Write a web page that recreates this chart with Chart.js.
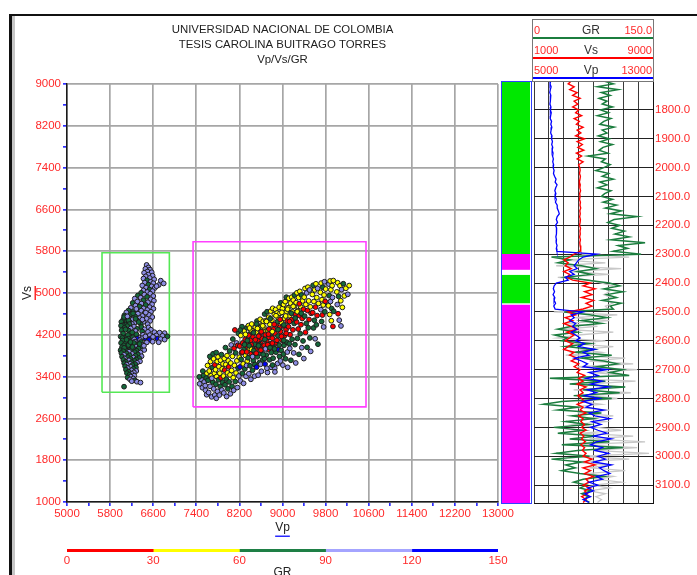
<!DOCTYPE html>
<html lang="es">
<head>
<meta charset="utf-8">
<title>Vp/Vs/GR</title>
<script src="https://cdn.jsdelivr.net/npm/chart.js@4.4.1/dist/chart.umd.min.js"></script>
<style>
  html, body { margin:0; padding:0; background:#fff; }
  #page { position:relative; width:697px; height:575px; overflow:hidden; background:#fff;
          font-family:"Liberation Sans", Arial, Helvetica, sans-serif; }
  #page canvas { position:absolute; left:0; top:0; }
  #frameOuter { position:absolute; left:9px; top:14px; width:700px; height:600px;
                border-left:3px solid #111; border-top:2px solid #111; }
  #frameInner { position:absolute; left:12px; top:16px; width:3px; height:600px; background:#c6c6c6; }
  #stripBorder { position:absolute; left:501px; top:81px; width:29px; height:421px; border:1px solid #3040ff; }
  #logHeader { position:absolute; left:532px; top:19px; width:120px; height:61px; border:1px solid #777; }
  .hd { position:absolute; font-size:11px; line-height:14px; white-space:nowrap; }
</style>
</head>
<body>
<div id="page">
  <div id="frameOuter"></div>
  <div id="frameInner"></div>
  <canvas id="crossplot" width="697" height="575"></canvas>
  <canvas id="zoneStrip" width="697" height="575"></canvas>
  <div id="stripBorder"></div>
  <canvas id="wellLog" width="697" height="575"></canvas>
  <div id="logHeader"></div>
  <canvas id="grScale" width="697" height="575"></canvas>
</div>
<script>
const FONT = '"Liberation Sans", Arial, Helvetica, sans-serif';
Chart.defaults.font.family = FONT;

// ---------- crossplot text ----------
const titleLines = ['UNIVERSIDAD NACIONAL DE COLOMBIA', 'TESIS CAROLINA BUITRAGO TORRES', 'Vp/Vs/GR'];
const xTitle = 'Vp';
const yTitle = 'Vs';
const legendTitle = 'GR';

// ---------- crossplot axes ----------
const vpAxis = [5000, 13000];
const vsAxis = [1000, 9000];
const vpTickLabels = [5000, 5800, 6600, 7400, 8200, 9000, 9800, 10600, 11400, 12200, 13000];
const vsTickLabels = [1000, 1800, 2600, 3400, 4200, 5000, 5800, 6600, 7400, 8200, 9000];

// ---------- GR colour classes ----------
const grBreaks = [0, 30, 60, 90, 120, 150];
const grColors = ['#ff0000', '#ffff00', '#15693a', '#8c8ce4', '#0000ff'];

// ---------- zone selection boxes (Vp range, Vs range) ----------
const upperZoneBox = { vp: [5650, 6900], vs: [3100, 5770] };
const lowerZoneBox = { vp: [7340, 10550], vs: [2820, 5980] };

// ---------- samples: [Vp, Vs, GR] ----------
const upperZonePts = [
[6478,5537,106],[6512,5489,101],[6455,5462,109],[6541,5448,97],[6493,5411,104],[6431,5386,112],[6572,5397,103],[6508,5352,99],[6462,5318,107],[6589,5331,95],
[6536,5287,102],[6420,5276,105],[6618,5262,98],[6487,5244,81],[6553,5213,108],[6444,5198,103],[6602,5187,100],[6512,5161,76],[6397,5143,106],[6571,5128,102],
[6468,5102,97],[6628,5094,104],[6531,5067,72],[6419,5049,108],[6588,5036,99],[6490,5018,105],[6376,5004,84],[6740,5236,103],[6795,5183,106],[6702,5152,101],
[6662,5131,107],
[6545,4988,101],[6436,4969,104],[6315,4952,78],[6602,4941,107],[6487,4926,69],[6368,4910,103],[6258,4893,105],[6553,4879,99],[6419,4862,74],[6613,4851,110],
[6305,4836,106],[6502,4822,102],[6219,4809,71],[6383,4797,104],[6579,4783,97],[6461,4771,79],[6271,4758,103],[6347,4741,67],[6535,4729,105],[6184,4716,108],
[6423,4707,101],[6604,4698,104],[6296,4689,81],[6490,4676,106],[6142,4665,73],
[6378,4662,103],[6232,4649,70],[6558,4641,106],[6101,4628,104],[6445,4617,77],[6316,4604,108],[6187,4592,66],[6520,4584,102],[6064,4571,79],[6402,4562,105],
[6265,4549,74],[6583,4539,103],[6139,4528,82],[6351,4519,100],[6479,4508,107],[6046,4496,71],[6213,4488,104],[6302,4475,69],[6544,4466,101],[6113,4457,77],
[6421,4448,106],[6171,4437,72],[6256,4428,103],[6029,4419,85],[6368,4410,75],[6497,4402,108],[6083,4395,68],[6206,4408,104],[6330,4444,79],[6141,4480,73],
[6060,4540,67],[6226,4610,76],[6121,4553,102],[6273,4506,71],[6009,4447,79],[6400,4491,104],[6462,4625,99],[6287,4695,106],[6159,4405,70],[6038,4382,74],
[6003,4374,78],[6117,4366,71],[6244,4358,104],[6379,4349,74],[6512,4341,102],[6068,4333,69],[6182,4322,103],[6301,4314,77],[6441,4306,107],[6557,4297,100],
[6014,4289,81],[6146,4280,68],[6273,4272,105],[6395,4264,72],[6502,4256,104],[6623,4249,106],[6719,4241,103],[6811,4232,109],[6042,4225,73],[6167,4217,79],
[6288,4209,70],[6411,4201,104],[6538,4194,101],[6658,4188,105],[6772,4180,107],[6864,4171,80],[5996,4166,76],[6097,4159,72],[6223,4152,74],[6343,4146,103],
[6301,4126,129],[6397,4134,104],[6462,4129,137],[6548,4122,127],[6621,4136,101],[6684,4124,131],[6739,4119,104],[6812,4108,106],[6596,4160,110],[6357,4099,108],
[6523,4101,141],[6455,4169,103],[6085,4304,73],[6211,4246,68],[6129,4195,77],
[6027,4138,74],[6139,4126,67],[6249,4113,103],[6031,4091,79],[6151,4079,72],[6262,4070,106],[6372,4062,74],[6481,4055,102],[6590,4068,105],[6702,4057,103],
[6004,4044,82],[6089,4034,70],[6194,4025,108],[6296,4016,79],[6405,4007,100],[6054,3998,74],[6166,3989,71],[6271,3980,104],[6366,3971,69],[6021,3962,78],
[6118,3953,73],[6228,3944,105],[6327,3936,77],[6082,3927,69],[6187,3918,82],[6434,3910,103],[5995,3905,76],[6140,4005,68],[6241,4045,73],[6106,4104,71],
[6347,4025,72],[6215,3966,70],[6061,3950,66],[6178,4060,74],[6428,3990,107],
[6292,3894,76],[6043,3885,72],[6152,3876,103],[6258,3867,71],[6364,3859,105],[6009,3851,79],[6107,3842,70],[6211,3833,106],[6316,3825,74],[6059,3816,104],
[6162,3807,78],[6269,3798,73],[6384,3790,107],[6022,3781,75],[6128,3772,71],[6233,3763,105],[6338,3755,80],[6073,3746,103],[6181,3737,69],[6284,3728,74],
[6047,3719,77],[6149,3710,106],[6254,3701,72],[6355,3692,104],[6093,3683,70],[6198,3674,79],[6299,3665,103],[6062,3656,73],[6171,3647,108],[6266,3638,71],
[6108,3629,104],[6213,3619,74],[6079,3598,77],[6184,3586,106],[6280,3574,72],[6129,3561,103],[6232,3549,79],[6094,3533,70],[6199,3520,104],[6286,3508,108],
[6145,3494,73],[6241,3481,105],[6113,3466,81],[6205,3451,102],[6158,3433,76],[6249,3418,107],[6183,3399,104],[6126,3381,72],[6231,3364,108],[6171,3346,102],
[6262,3329,79],[6202,3312,105],[6298,3302,104],[6364,3286,110],[6059,3207,74]
];

const lowerZonePts = [
[7462,3262,104],[7488,3351,97],[7513,3188,109],[7531,3420,76],[7547,3297,101],[7570,3140,112],[7584,3373,71],[7596,3466,44],[7521,3505,83],[7566,3228,95],
[7455,3395,79],[7592,3053,103],
[7608,3612,48],[7617,3328,72],[7629,3096,106],[7641,3507,41],[7655,3214,99],[7663,3688,52],[7676,3419,37],[7684,3012,108],[7697,3574,66],[7705,3297,85],
[7718,3741,45],[7724,3165,101],[7736,3462,53],[7742,3048,94],[7651,3786,74],[7711,3836,70],[7688,3368,117],[7745,3624,29],
[7756,3532,47],[7763,3254,78],[7771,2985,103],[7779,3401,39],[7788,3689,56],[7794,3117,98],[7803,3778,42],[7812,3339,68],[7820,3590,35],[7828,3046,110],
[7836,3465,51],[7843,3212,87],[7851,3712,46],[7859,3376,22],[7866,3821,73],[7874,3143,96],[7881,3548,43],[7889,3290,70],[7896,3643,38],[7770,3860,81],
[7904,3411,54],[7911,3087,104],[7919,3746,40],[7926,3523,18],[7934,3244,76],[7941,3955,72],[7948,3632,49],[7956,3352,63],[7963,3019,99],[7971,3802,44],
[7979,3471,37],[7986,3166,83],[7994,3702,57],[8002,3587,25],[8010,3298,71],[8018,3890,78],[8026,3433,45],[8033,3071,102],[8041,3659,39],[8048,4006,106],
[8056,3517,42],[8063,3214,74],[8071,3788,33],[8078,4118,68],[8086,3379,52],[8093,3138,97],[8101,3941,15],[8108,3614,46],[8116,4292,21],[8123,3305,78],
[8131,3853,71],[8138,3469,36],[8146,4044,108],[8153,3702,40],[8161,3191,92],[8168,3996,24],[8176,3562,65],[8183,4227,79],[8190,3411,103],[8198,3770,48],
[8205,3984,19],[8211,3584,131],[8218,3317,96],[8226,4187,45],[8233,3731,72],[8241,3856,12],[8248,4356,67],[8256,3462,81],[8263,4045,27],[8271,3644,38],
[8278,3271,104],[8286,3925,74],[8293,4271,41],[8301,3546,69],[8308,4112,16],[8316,3803,53],[8323,3404,107],[8331,3989,22],[8338,4334,76],[8346,3697,44],
[8215,4290,70],[8333,3613,99],
[8353,4048,14],[8361,3761,79],[8368,4376,48],[8376,3455,102],[8383,3918,31],[8391,4213,73],[8398,3607,67],[8406,4091,26],[8413,3348,110],[8421,3839,18],
[8428,4406,43],[8436,3966,74],[8443,3521,88],[8451,4162,11],[8458,3704,71],[8466,4287,39],[8473,3880,23],[8481,3408,105],[8488,4018,65],[8496,4344,52],
[8372,4190,21],[8445,3782,96],[8487,3631,73],[8409,4297,56],
[8503,3916,17],[8511,4242,47],[8518,3581,134],[8526,4463,71],[8533,3779,82],[8541,4086,20],[8548,3428,99],[8556,4344,36],[8563,3962,25],[8571,3667,68],
[8578,4195,13],[8586,4497,44],[8593,3847,78],[8601,4031,29],[8608,3502,103],[8616,4389,55],[8623,4130,19],[8631,3720,74],[8638,4270,41],[8646,3928,22],
[8520,4406,79],[8594,3636,107],[8642,4459,50],[8557,4173,27],
[8653,4351,37],[8661,3998,14],[8668,4597,72],[8676,3640,132],[8683,4196,24],[8691,4469,46],[8698,3811,76],[8706,4081,18],[8713,4642,68],[8721,3479,101],
[8728,4284,33],[8736,3918,27],[8743,4536,42],[8751,4151,12],[8758,3721,70],[8766,4398,53],[8773,4027,21],[8781,4653,39],[8788,3578,93],[8796,4228,75],
[8664,3745,66],[8710,3560,115],[8747,4310,16],[8792,3860,84],
[8803,4480,45],[8811,4134,17],[8818,4707,35],[8826,3752,78],[8833,4309,23],[8841,3955,71],[8848,4588,49],[8856,3560,106],[8863,4221,15],[8871,4682,58],
[8878,3868,72],[8886,4395,29],[8893,4042,19],[8901,4619,41],[8908,3650,98],[8916,4176,74],[8923,4521,37],[8931,3917,131],[8938,4728,43],[8946,4339,26],
[8815,3620,70],[8859,3490,102],[8905,4450,68],[8944,3786,79],
[8953,4611,47],[8961,4262,18],[8968,4812,71],[8976,3901,69],[8983,4433,32],[8991,4098,21],[8998,4703,44],[9006,3620,104],[9013,4371,13],[9021,4779,53],
[9028,3998,74],[9036,4516,40],[9043,4187,25],[9051,4835,38],[9058,3741,77],[9066,4299,16],[9073,4652,49],[9081,4058,72],[9088,4462,22],[9096,3577,97],
[8962,3700,109],[9017,3830,66],[9071,4920,73],[9090,3870,101],
[9103,4718,42],[9111,4354,19],[9118,4899,51],[9126,4028,73],[9133,4563,35],[9141,4201,14],[9148,4806,46],[9156,3712,78],[9163,4489,24],[9171,4920,39],
[9178,4114,70],[9186,4640,45],[9193,4295,28],[9201,4863,53],[9208,3853,103],[9216,4417,71],[9223,4750,37],[9231,4012,76],[9238,4588,17],[9246,3661,99],
[9135,3940,107],[9222,4960,70],
[9253,4815,47],[9261,4446,20],[9268,5004,44],[9276,4130,75],[9283,4661,32],[9291,4311,18],[9298,4914,53],[9306,3826,72],[9313,4569,26],[9321,5031,41],
[9328,4222,68],[9336,4741,49],[9343,4393,15],[9351,4962,74],[9358,3953,106],[9366,4512,21],[9373,4848,38],[9381,4082,79],[9388,4688,24],[9396,3745,101],
[9403,4920,43],[9411,4558,71],[9418,5086,48],[9426,4247,19],[9433,4781,36],[9441,4418,73],[9448,5001,104],[9456,3960,77],[9463,4664,22],[9471,5112,45],
[9478,4335,68],[9486,4849,31],[9493,4492,14],[9501,5058,106],[9508,4140,74],[9516,4735,44],[9523,3883,99],[9531,4611,25],
[9553,4972,46],[9561,4624,20],[9568,5147,74],[9576,4331,72],[9583,4837,38],[9591,4478,75],[9598,5060,42],[9606,4124,103],[9613,4730,17],[9621,5176,49],
[9628,4390,70],[9636,4912,36],[9643,4568,23],[9651,5088,105],[9658,4020,76],[9666,4800,45],
[9703,5012,40],[9711,4681,104],[9718,5189,47],[9726,4455,72],[9733,4873,44],[9741,4578,19],[9748,5110,73],[9756,4770,37],[9763,4350,102],[9771,4962,49],
[9778,5215,104],[9786,4640,71],[9793,4840,16],[9801,5075,42],
[9853,4755,45],[9861,5170,106],[9868,4948,73],[9876,4588,40],[9883,5230,44],[9891,4838,105],[9898,5062,47],[9906,4470,46],[9913,4702,71],[9921,5141,39],
[9928,4914,103],[9936,4360,15],[9943,5238,42],[9951,4650,74],
[10008,5021,44],[10016,4779,106],[10024,5196,49],[10032,4603,22],[10041,4935,72],[10053,4480,104],[10067,5138,38],[10082,4852,43],[10096,5064,105],[10111,4725,46],
[10129,5177,73],[10148,4944,41],[10176,5090,47],[10212,4975,104],[10238,5142,36],[10085,4370,108],
[8312,4208,44],[8347,4090,71],[8388,4330,36],[8419,4012,20],[8462,4240,75],[8497,4105,28],[8534,4320,41],[8566,4015,74],[8607,4258,16],[8633,4372,52],
[8672,4110,69],[8702,4455,38],[8739,4212,23],[8772,4508,73],[8811,4260,47],[8846,4398,18],[8879,4565,44],[8917,4300,72],[8956,4493,26],[8988,4630,55],
[9026,4388,70],[9059,4560,33],[9094,4690,45],[9129,4455,20],[9164,4612,74],[9199,4744,39],[9236,4520,72],[9274,4642,43],[9312,4793,28],[9347,4612,70],
[8254,3870,23],[8296,4010,68],[8337,3872,17],[8381,3990,73],[8425,3921,30],[8468,3898,74],[8512,3846,20],[8555,3990,66],[8599,3905,15],[8641,3822,73],
[8683,3930,107],[8727,4012,27],[8769,3954,74],[8812,4040,18],[8853,3930,71],[8897,4095,24],[8939,4003,75],[8981,4170,19],[9024,4093,73],[9068,4228,26]
];

// ---------- well log ----------
const logCurveNames = ['GR', 'Vs', 'Vp'];
const grRange = [0, 150];
const vsRange = [1000, 9000];
const vpRange = [5000, 13000];
const logRangeLabels = [['0', '150.0'], ['1000', '9000'], ['5000', '13000']];
const logColors = { GR: '#1b7d3e', Vs: '#ff0000', Vp: '#0000ff', alt: '#c8c8c8' };
const depthRange = [1700, 3162];

const depthFt = [
1700,1710,1720,1730,1740,1750,1760,1770,1780,1790,
1800,1810,1820,1830,1840,1850,1860,1870,1880,1890,
1900,1910,1920,1930,1940,1950,1960,1970,1980,1990,
2000,2010,2020,2030,2040,2050,2060,2070,2080,2090,
2100,2110,2120,2130,2140,2150,2160,2170,2180,2190,
2200,2210,2220,2230,2240,2250,2260,2270,2280,2290,
2300,2310,2320,2330,2340,2350,2360,2370,2380,2390,
2400,2410,2420,2430,2440,2450,2460,2470,2480,2490,
2500,2510,2520,2530,2540,2550,2560,2570,2580,2590,
2600,2610,2620,2630,2640,2650,2660,2670,2680,2690,
2700,2710,2720,2730,2740,2750,2760,2770,2780,2790,
2800,2810,2820,2830,2840,2850,2860,2870,2880,2890,
2900,2910,2920,2930,2940,2950,2960,2970,2980,2990,
3000,3010,3020,3030,3040,3050,3060,3070,3080,3090,
3100,3110,3120,3130,3140,3150,3160];

const vpLog = [
6120,6080,6150,6100,6060,6130,6090,6110,6070,6140,
6100,6160,6120,6090,6180,6130,6200,6150,6120,6210,
6180,6240,6190,6260,6220,6280,6250,6300,6260,6320,
6290,6350,6310,6380,6480,6420,6550,6460,6400,6470,
6420,6500,6440,6560,6560,6640,6700,6560,6500,6580,
6450,6520,6480,6540,6470,6510,6490,6550,6500,6540,
9200,8300,8000,7850,7700,7900,7400,7700,7100,7300,
6500,6350,6300,6380,6280,6400,6350,6450,6330,6420,
8300,7500,7700,7400,7800,7600,7900,7500,7800,8100,
7800,8400,8000,9100,8300,8700,7700,8200,8600,8300,
9900,8700,9300,8500,9600,8800,10000,8600,9200,8400,
9400,8300,8900,8500,9700,8700,9100,10100,8900,9500,
8800,9300,9900,9000,10200,9200,8800,9600,9100,10000,
9300,9800,9000,10200,9400,9700,10100,9200,9600,8700,
9300,8600,9000,8400,8800,8300,8700];

const vsLog = [
3500,3300,3700,3400,3900,3600,4100,3700,3950,3600,
4000,3800,4200,3700,4050,3850,4300,3900,4150,3800,
4400,3900,4250,3950,4350,3850,4200,3900,4300,4000,
4080,4100,4060,4120,4090,4050,4110,4080,4130,4070,
4100,4060,4120,4090,4140,4080,4110,4070,4120,4100,
4060,4130,4090,4110,4070,4120,4080,4100,4140,4090,
3700,3400,3000,3300,3100,3500,3000,3400,3200,3600,
4800,4300,5100,4400,4900,4200,5000,4500,4900,4300,
3300,3800,3100,3600,3000,3500,3900,3200,3700,3400,
3100,3600,3300,3000,3700,3400,3900,3500,4000,3700,
4100,3900,4400,4000,4300,3900,4500,4100,4300,3950,
4200,4400,3900,4300,4100,4500,4000,4300,4150,4400,
4200,4500,4100,4350,4200,4450,4150,4400,4250,4500,
4300,4900,4400,5100,4300,4800,4400,5000,4500,4700,
4300,4800,4400,4600,4200,4500,4300];

const grLog = [
88,100,80,106,85,96,82,92,86,99,
84,94,80,97,88,83,101,86,92,81,
95,84,99,87,82,93,68,90,85,96,
88,78,94,86,100,83,92,80,97,89,
85,99,87,104,90,110,96,130,101,93,
108,98,114,102,120,97,140,106,118,100,
135,22,45,30,60,78,55,72,40,68,
95,108,88,112,92,104,86,110,96,100,
38,70,92,60,85,48,30,55,26,42,
35,70,40,75,52,98,60,88,105,80,
112,96,120,20,90,45,115,62,108,50,
98,35,12,55,30,85,48,75,40,68,
25,62,30,80,45,95,35,112,55,28,
70,22,60,40,52,35,58,88,62,50,
66,58,72,60,68,63,70];

const grAltLog = [
null,null,null,null,null,null,null,null,null,null,
null,null,null,null,null,null,null,null,null,null,
null,null,null,null,null,null,null,null,null,null,
null,null,null,null,null,null,null,null,null,null,
null,null,null,null,null,null,null,null,null,null,
null,null,null,null,null,null,null,null,null,null,
60,120,35,90,28,110,45,95,30,70,
85,100,90,95,88,97,92,99,90,94,
25,105,50,95,40,80,35,100,55,30,
90,45,100,60,85,40,115,70,125,55,
130,75,118,40,128,65,110,50,122,70,
105,60,85,45,95,55,100,65,90,50,
80,110,60,125,70,140,55,130,75,145,
60,120,50,95,70,115,65,100,80,110,
75,95,70,90,78,85,80];

// ---------- zone strip (depth intervals) ----------
const zoneTopFt  = [1700, 2298, 2373, 2476];
const zoneBaseFt = [2298, 2353, 2469, 3162];
const zoneKind   = ['upper', 'lower', 'upper', 'lower'];
const zoneColors = { upper: '#00e800', lower: '#ff00ff' };
const zoneBoxColors = { upper: '#55e855', lower: '#ff40ff' };

// ================= helpers =================
const grColor = g => {
  for (let k = 0; k < grColors.length; k++) if (g < grBreaks[k + 1]) return grColors[k];
  return grColors[grColors.length - 1];
};
const toPts = arr => arr.map(([x, y, gr]) => ({ x, y, gr }));
const boxPath = b => [
  { x: b.vp[0], y: b.vs[0] }, { x: b.vp[1], y: b.vs[0] }, { x: b.vp[1], y: b.vs[1] },
  { x: b.vp[0], y: b.vs[1] }, { x: b.vp[0], y: b.vs[0] }
];
const RED_TXT = '#ff2a2a';

// ================= crossplot =================
const crossplotText = {
  id: 'crossplotText',
  afterDraw(chart) {
    const c = chart.ctx, a = chart.chartArea, cx = (a.left + a.right) / 2;
    c.save();
    c.textAlign = 'center';
    c.textBaseline = 'middle';
    c.fillStyle = '#222';
    c.font = '11.4px ' + FONT;
    titleLines.forEach((t, i) => c.fillText(t, cx, 30 + i * 15));
    c.font = '12px ' + FONT;
    c.fillText(xTitle, cx, 528);
    const wx = c.measureText(xTitle).width;
    c.fillStyle = '#2a2aff';
    c.fillRect(cx - wx / 2, 535.5, wx, 1.5);
    c.translate(28, (a.top + a.bottom) / 2);
    c.rotate(-Math.PI / 2);
    c.fillStyle = '#222';
    c.fillText(yTitle, 0, 0);
    const wy = c.measureText(yTitle).width;
    c.fillStyle = RED_TXT;
    c.fillRect(-wy / 2, 6.5, wy, 1.5);
    c.restore();
  }
};

const pointSet = arr => ({
  type: 'scatter',
  data: toPts(arr),
  pointRadius: 2.4,
  pointHoverRadius: 2.4,
  pointBorderWidth: 1,
  pointBorderColor: '#1c1c1c',
  pointBackgroundColor: ctx => grColor(ctx.raw ? ctx.raw.gr : 0),
  order: 1
});
const boxSet = (b, color) => ({
  type: 'line',
  data: boxPath(b),
  showLine: true,
  borderColor: color,
  borderWidth: 1.6,
  pointRadius: 0,
  fill: false,
  tension: 0,
  order: 2
});

const majorVp = v => vpTickLabels.includes(v);
const majorVs = v => vsTickLabels.includes(v);

new Chart(document.getElementById('crossplot'), {
  type: 'scatter',
  data: {
    datasets: [
      boxSet(upperZoneBox, zoneBoxColors.upper),
      boxSet(lowerZoneBox, zoneBoxColors.lower),
      pointSet(upperZonePts),
      pointSet(lowerZonePts)
    ]
  },
  options: {
    responsive: false, animation: false, devicePixelRatio: 1,
    layout: { padding: { left: 0, top: 84, right: 199, bottom: 0 } },
    plugins: { legend: { display: false }, tooltip: { enabled: false }, title: { display: false } },
    scales: {
      x: {
        type: 'linear', min: vpAxis[0], max: vpAxis[1],
        ticks: { stepSize: 400, autoSkip: false, maxRotation: 0, color: RED_TXT, padding: 1,
                 font: { size: 11.5 }, callback: v => majorVp(v) ? String(v) : '' },
        grid: { color: c => majorVp(c.tick.value) ? '#a6a6a6' : 'rgba(0,0,0,0)', lineWidth: 1.7,
                tickColor: '#2f2fff', tickLength: 4, drawTicks: true },
        border: { color: '#1a1a1a', width: 1.5 },
        afterFit: s => { s.height = 73; }
      },
      y: {
        type: 'linear', min: vsAxis[0], max: vsAxis[1],
        ticks: { stepSize: 400, autoSkip: false, color: RED_TXT, padding: 2,
                 font: { size: 11.5 }, callback: v => majorVs(v) ? String(v) : '' },
        grid: { color: c => majorVs(c.tick.value) ? '#a6a6a6' : 'rgba(0,0,0,0)', lineWidth: 1.7,
                tickColor: '#2f2fff', tickLength: 4, drawTicks: true },
        border: { color: '#1a1a1a', width: 1.5 },
        afterFit: s => { s.width = 67; }
      }
    }
  },
  plugins: [crossplotText]
});

// ================= zone strip =================
new Chart(document.getElementById('zoneStrip'), {
  type: 'bar',
  data: {
    labels: ['zona'],
    datasets: zoneTopFt.map((t, i) => ({
      data: [[t, zoneBaseFt[i]]],
      backgroundColor: zoneColors[zoneKind[i]],
      borderWidth: 0, barPercentage: 1, categoryPercentage: 1, grouped: false
    }))
  },
  options: {
    responsive: false, animation: false, devicePixelRatio: 1,
    layout: { padding: { left: 502, right: 167, top: 81, bottom: 72 } },
    plugins: { legend: { display: false }, tooltip: { enabled: false } },
    scales: {
      x: { display: false },
      y: { display: false, reverse: true, min: depthRange[0], max: depthRange[1] }
    }
  }
});

// ================= well log =================
const curve = (values, axis, color, width) => ({
  data: depthFt.map((d, i) => ({ x: values[i], y: d })).filter(p => p.x !== null),
  xAxisID: axis, borderColor: color, borderWidth: width,
  pointRadius: 0, fill: false, tension: 0, spanGaps: false
});

new Chart(document.getElementById('wellLog'), {
  type: 'line',
  data: {
    datasets: [
      curve(vpLog, 'xVp', logColors.Vp, 1.3),
      curve(vsLog, 'xVs', logColors.Vs, 1.4),
      curve(grLog, 'xGR', logColors.GR, 1.5),
      curve(grAltLog, 'xGR', logColors.alt, 1.3)
    ]
  },
  options: {
    responsive: false, animation: false, devicePixelRatio: 1,
    layout: { padding: { left: 534, right: 0, top: 81, bottom: 72 } },
    plugins: { legend: { display: false }, tooltip: { enabled: false } },
    scales: {
      xGR: { type: 'linear', min: grRange[0], max: grRange[1], display: false },
      xVs: { type: 'linear', min: vsRange[0], max: vsRange[1], display: false },
      xVp: {
        type: 'linear', position: 'bottom', min: vpRange[0], max: vpRange[1],
        ticks: { display: false, stepSize: 1000 },
        grid: { color: '#3a3a3a', lineWidth: 1, drawTicks: false },
        border: { color: '#111', width: 1 },
        afterFit: s => { s.height = 0; }
      },
      y: {
        type: 'linear', position: 'right', reverse: true, min: depthRange[0], max: depthRange[1],
        ticks: { stepSize: 100, autoSkip: false, color: RED_TXT, padding: 2, font: { size: 11.5 },
                 callback: v => (v > depthRange[0] && v <= 3100 && v % 100 === 0) ? v.toFixed(1) : '' },
        grid: { color: '#222', lineWidth: 1, drawTicks: false },
        border: { color: '#111', width: 1 },
        afterFit: s => { s.width = 44; }
      }
    }
  }
});

// log header: curve name with its scale limits and colour line
const hdr = document.getElementById('logHeader');
const hdrColors = [logColors.GR, logColors.Vs, logColors.Vp];
logCurveNames.forEach((name, k) => {
  const rowTop = 20 * k;
  const lo = document.createElement('span');
  lo.className = 'hd'; lo.textContent = logRangeLabels[k][0];
  lo.style.cssText = `left:1px;top:${rowTop + 3}px;color:${RED_TXT};`;
  const nm = document.createElement('span');
  nm.className = 'hd'; nm.textContent = name;
  nm.style.cssText = `left:38px;width:40px;text-align:center;top:${rowTop + 3}px;color:#333;font-size:12px;`;
  const hi = document.createElement('span');
  hi.className = 'hd'; hi.textContent = logRangeLabels[k][1];
  hi.style.cssText = `right:1px;top:${rowTop + 3}px;color:${RED_TXT};`;
  const ln = document.createElement('div');
  ln.style.cssText = `position:absolute;left:0;width:120px;top:${rowTop + 17}px;height:2px;background:${hdrColors[k]};`;
  hdr.append(lo, nm, hi, ln);
});

// ================= GR colour scale =================
const grScaleTitle = {
  id: 'grScaleTitle',
  afterDraw(chart) {
    const c = chart.ctx, a = chart.chartArea;
    c.save();
    c.font = '12px ' + FONT; c.fillStyle = '#222';
    c.textAlign = 'center'; c.textBaseline = 'middle';
    c.fillText(legendTitle, (a.left + a.right) / 2, 573);
    c.restore();
  }
};

new Chart(document.getElementById('grScale'), {
  type: 'bar',
  data: {
    labels: ['GR'],
    datasets: grColors.map((col, k) => ({
      data: [[grBreaks[k], grBreaks[k + 1]]],
      backgroundColor: k === 2 ? '#1e7f45' : (k === 3 ? '#a4a4ff' : col),
      borderWidth: 0, barPercentage: 1, categoryPercentage: 1, grouped: false
    }))
  },
  options: {
    indexAxis: 'y',
    responsive: false, animation: false, devicePixelRatio: 1,
    layout: { padding: { left: 67, right: 199, top: 549, bottom: 0 } },
    plugins: { legend: { display: false }, tooltip: { enabled: false } },
    scales: {
      x: {
        type: 'linear', min: grBreaks[0], max: grBreaks[grBreaks.length - 1],
        ticks: { stepSize: 30, color: RED_TXT, padding: 2, font: { size: 11.5 } },
        grid: { display: false, drawTicks: false },
        border: { display: false },
        afterFit: s => { s.height = 23; }
      },
      y: { display: false }
    }
  },
  plugins: [grScaleTitle]
});
</script>
</body>
</html>
